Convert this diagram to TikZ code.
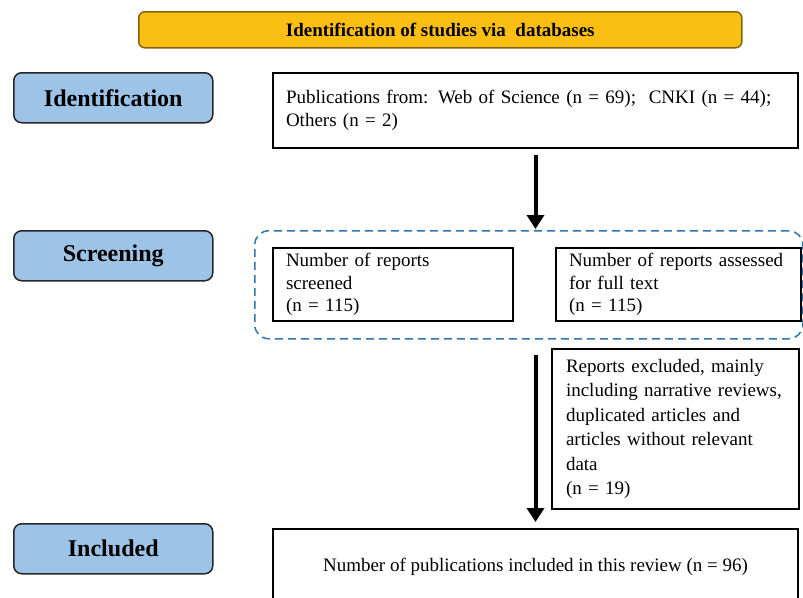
\documentclass[tikz,border=0pt]{standalone}
\usepackage{fontspec}
\setmainfont{Liberation Serif}
\usetikzlibrary{arrows.meta,positioning}
\definecolor{bannerfill}{HTML}{FBBF14}
\definecolor{bannerline}{HTML}{7F6410}
\definecolor{stagefill}{HTML}{9DC3E6}
\definecolor{zoneline}{HTML}{2E75B6}
\tikzset{
    banner/.style={draw=bannerline,fill=bannerfill,rounded corners=6pt,line width=1.5pt,
        minimum width=603pt,minimum height=36pt,anchor=north west,
        font=\bfseries\fontsize{19}{22}\selectfont},
    stage/.style={draw=black!85,fill=stagefill,rounded corners=8pt,line width=1.5pt,
        minimum width=199pt,minimum height=50pt,anchor=north west,
        font=\bfseries\fontsize{24}{28}\selectfont},
    record/.style={draw,line width=2pt,align=left,inner xsep=13pt,anchor=north west,
        font=\fontsize{19}{22.5}\selectfont},
    zone/.style={draw=zoneline,dash pattern=on 8pt off 5pt,rounded corners=14pt,line width=1.5pt,
        anchor=north west},
    pre/.style={-{Triangle[width=17pt,length=14pt]},line width=4pt}
}

\begin{document}
\begin{tikzpicture}[x=1pt,y=-1pt]
    \clip (0,0) rectangle (803,597);

    \node[banner] (title) at (138,11) {Identification of studies via \ databases};

    \node[stage] (identification) at (13,72)  {Identification};
    \node[stage] (screening)      at (13,230) {Screening};
    \node[stage] (included)       at (13,523) {Included};

    \node[record] (publications) [text width=499pt,minimum height=75pt] at (272,72)
        {Publications from: Web of Science (n = 69); \ CNKI (n = 44);\\Others (n = 2)};

    \node[zone] (zone) [minimum width=548pt,minimum height=108pt] at (254,230) {};

    \node[record] (screened) [text width=214pt,minimum height=73pt] at (272,247)
        {Number of reports\\screened\\(n = 115)};
    \node[record] (assessed) [text width=219pt,minimum height=73pt,right=41pt of screened.north east,anchor=north west]
        {Number of reports assessed\\for full text\\(n = 115)};

    \node[record] (excluded) [text width=219pt,minimum height=160pt,inner xsep=14pt,
        font=\fontsize{19}{24.5}\selectfont] at (551,348)
        {Reports excluded, mainly\\including narrative reviews,\\duplicated articles and\\articles without relevant\\data\\(n = 19)};

    \node[record] (final) [minimum width=525pt,minimum height=76pt,align=center] at (272,528)
        {Number of publications included in this review (n = 96)};

    \draw[pre,shorten <=6pt,shorten >=1pt] (publications.south) -- (publications.south |- zone.north);
    \draw[pre,shorten <=15pt,shorten >=6pt] (publications.south |- zone.south) -- (final.north);
\end{tikzpicture}
\end{document}
